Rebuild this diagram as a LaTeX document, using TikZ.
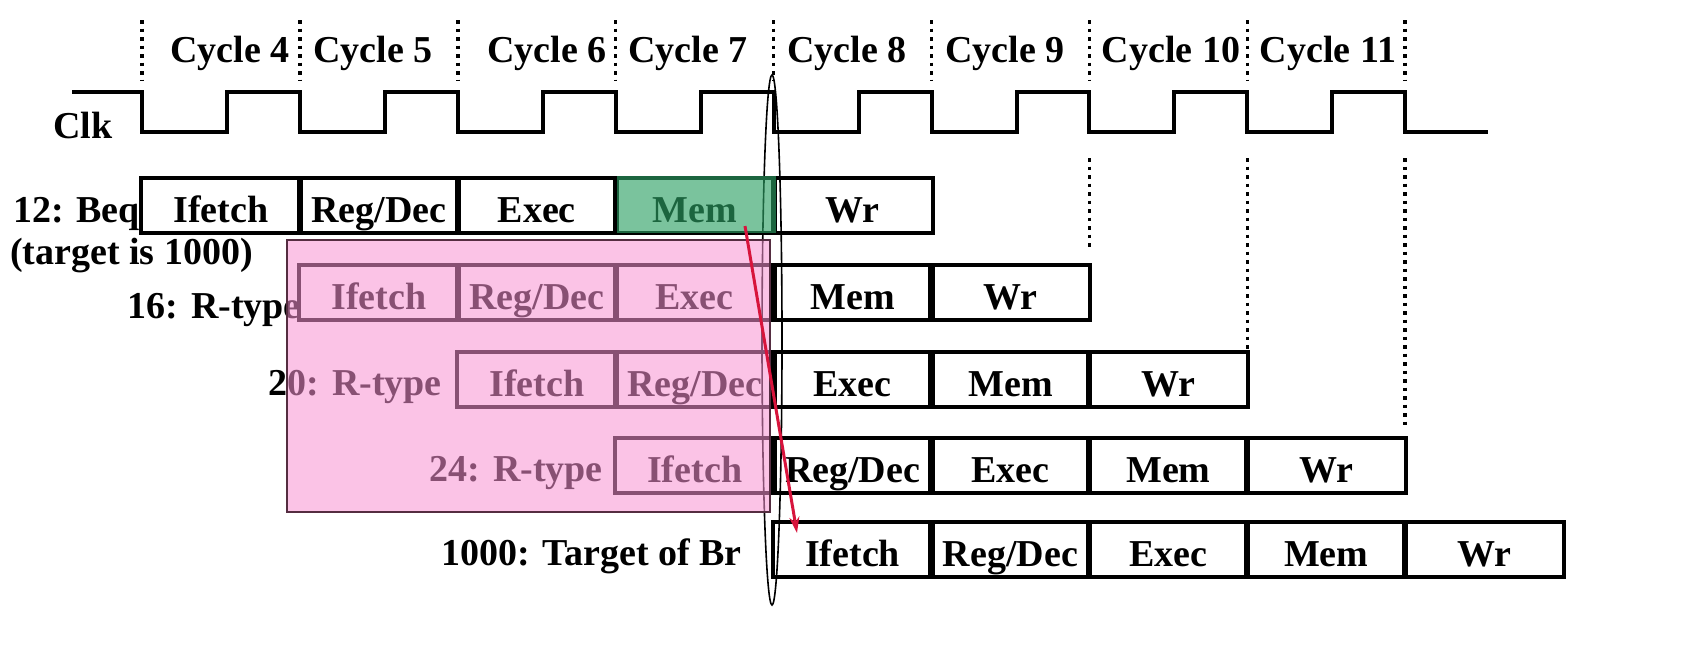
\documentclass[tikz,border=0pt]{standalone}
\usepackage{fontspec}
\setmainfont{Liberation Serif}
\usetikzlibrary{arrows.meta}
\definecolor{pinkov}{RGB}{248,147,211}
\definecolor{greenov}{RGB}{45,160,100}
\definecolor{mauveline}{RGB}{85,45,65}
\definecolor{brred}{RGB}{215,20,60}
\begin{document}
\begin{tikzpicture}[x=1pt,y=-1pt,
  txt/.style={font=\fontsize{38}{40}\selectfont\bfseries},
  stage/.style={txt,draw,line width=4pt,minimum width=160pt,minimum height=55pt,inner sep=0pt,text height=42pt,text depth=8pt},
  lbl/.style={txt,inner sep=0pt},
  clk/.style={line width=4pt,line join=miter},
  dotline/.style={line width=3.5pt,dash pattern=on 3.5pt off 5pt},
  brarrow/.style={draw=brred,line width=3pt,-{Stealth[length=16pt,width=10pt]}}]
\useasboundingbox (0,0) rectangle (1696,662);
\fill[white] (0,0) rectangle (1696,662);

% top dotted cycle boundaries
\foreach \k in {0,...,8} {
  \draw[dotline] ({142+157.9*\k},20) -- ({142+157.9*\k},80);
}
% lower dotted lines
\draw[dotline] ({142+157.9*6},158) -- ({142+157.9*6},250);
\draw[dotline] ({142+157.9*7},158) -- ({142+157.9*7},365);
\draw[dotline] ({142+157.9*8},158) -- ({142+157.9*8},425);

% cycle labels
\node[lbl,anchor=base] (cy4) at (230,62) {Cycle 4};
\node[lbl,anchor=base] (cy5) at (373,62) {Cycle 5};
\node[lbl,anchor=base] (cy6) at (547,62) {Cycle 6};
\node[lbl,anchor=base] (cy7) at (688,62) {Cycle 7};
\node[lbl,anchor=base] (cy8) at (847,62) {Cycle 8};
\node[lbl,anchor=base] (cy9) at (1005,62) {Cycle 9};
\node[lbl,anchor=base] (cy10) at (1171,62) {Cycle 10};
\node[lbl,anchor=base] (cy11) at (1328,62) {Cycle 11};

% clock
\node[lbl,anchor=base] (clklbl) at (83,138) {Clk};
\draw[clk] (72,92)
  \foreach \k in {0,...,7} {
    -- ({142+157.9*\k},92) -- ({142+157.9*\k},132) -- ({142+157.9*\k+85},132) -- ({142+157.9*\k+85},92)
  }
  -- ({142+157.9*8},92) -- ({142+157.9*8},132) -- (1488,132);

% pipeline stages
\foreach \r/\y/\s in {1/205/0,2/292/1,3/379/2,4/465/3,5/549/4} {
  \foreach \n [count=\i from 0] in {Ifetch,{Reg/Dec},Exec,Mem,Wr} {
    \pgfmathsetmacro\xc{142+157.9*(\s+\i)+78.95}
    \node[stage] (r\r-\i) at (\xc,\y) {\n};
  }
}

% instruction labels
\node[lbl,anchor=base east] (l1) at (140,222) {12: Beq};
\node[lbl,anchor=base west] (l1b) at (10,264) {(target is 1000)};
\node[lbl,anchor=base east] (l2) at (301,318) {16: R-type};
\node[lbl,anchor=base east] (l3) at (442,395) {20: R-type};
\node[lbl,anchor=base east] (l4) at (603,481) {24: R-type};
\node[lbl,anchor=base east] (l5) at (742,565) {1000: Target of Br};

% ellipse
\draw[line width=1.6pt] (772,340) ellipse [x radius=10, y radius=265];

% overlays
\fill[greenov,opacity=0.63] (617,176) rectangle (776,233);
\fill[pinkov,opacity=0.55] (287,240) rectangle (770,512);
\draw[mauveline,line width=1.8pt] (287,240) rectangle (770,512);

% branch arrow
\coordinate (brS) at (745,226);
\coordinate (brE) at (797,533);
\draw[brarrow] (brS) -- (brE);
\end{tikzpicture}
\end{document}
